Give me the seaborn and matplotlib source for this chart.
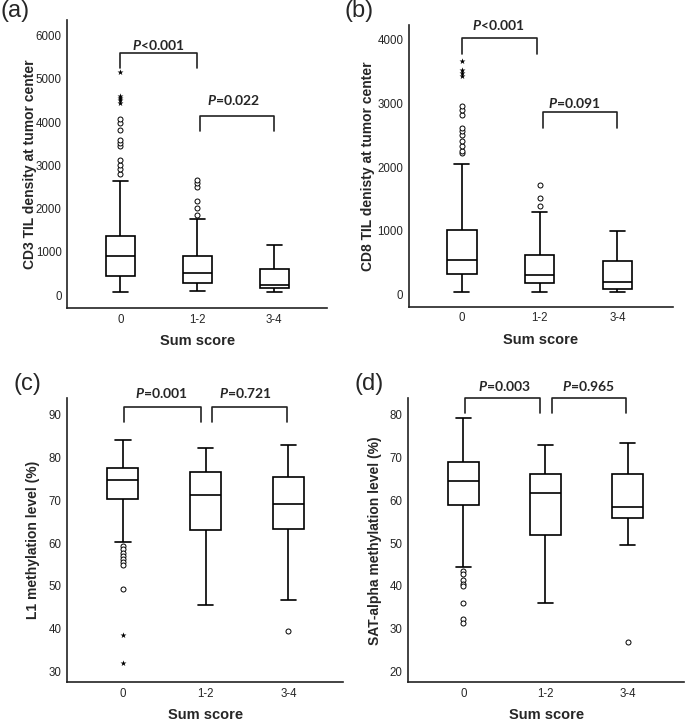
import numpy as np
import pandas as pd
import matplotlib
matplotlib.use('Agg')
import matplotlib.pyplot as plt
import seaborn as sns

sns.set_style('white')
plt.rcParams['font.family'] = ['Liberation Sans', 'DejaVu Sans']
plt.rcParams['mathtext.fontset'] = 'custom'
plt.rcParams['mathtext.it'] = 'Lato:italic:bold'
plt.rcParams['mathtext.rm'] = 'Lato:bold'

groups = ['0', '1-2', '3-4']

# box stats per group: [whisker low, Q1, median, Q3, whisker high]
cd3_box = {'0': [77, 438, 900, 1377, 2638],
           '1-2': [100, 285, 523, 900, 1754],
           '3-4': [69, 177, 246, 608, 1169]}
cd3_circ = {'0': [2792, 2908, 3000, 3115, 3438, 3508, 3577, 3808, 3990, 4060],
            '1-2': [1846, 2023, 2177, 2500, 2592, 2654],
            '3-4': []}
cd3_star = {'0': [4440, 4500, 4560, 4610, 5150], '1-2': [], '3-4': []}

cd8_box = {'0': [42, 324, 549, 1020, 2055],
           '1-2': [37, 178, 314, 622, 1291],
           '3-4': [42, 94, 199, 523, 999]}
cd8_circ = {'0': [2222, 2259, 2327, 2405, 2510, 2562, 2614, 2824, 2902, 2954],
            '1-2': [1396, 1516, 1725],
            '3-4': []}
cd8_star = {'0': [3425, 3477, 3529, 3660], '1-2': [], '3-4': []}

l1_box = {'0': [60.2, 70.4, 74.8, 77.5, 84.2],
          '1-2': [45.6, 63.1, 71.2, 76.7, 82.2],
          '3-4': [46.8, 63.2, 69.2, 75.4, 82.9]}
l1_circ = {'0': [59.3, 58.6, 57.8, 57.0, 56.3, 55.6, 55.0, 49.4],
           '1-2': [],
           '3-4': [39.4]}
l1_star = {'0': [38.5, 32.1], '1-2': [], '3-4': []}

sat_box = {'0': [44.4, 58.8, 64.4, 69.0, 79.2],
           '1-2': [36.1, 51.8, 61.7, 66.2, 73.0],
           '3-4': [49.5, 55.8, 58.5, 66.2, 73.3]}
sat_circ = {'0': [43.5, 42.8, 41.3, 40.5, 39.9, 36.0, 32.2, 31.4],
            '1-2': [],
            '3-4': [26.9]}
sat_star = {'0': [], '1-2': [], '3-4': []}

# p-value annotations: (label, x left, x right, y top, y bottom, text x, text y)
cd3_p = [('$\\mathit{P}$<0.001', 0, 1, 5600, 5250, 0.49, 5770),
         ('$\\mathit{P}$=0.022', 1.03, 2, 4138, 3800, 1.47, 4500)]
cd8_p = [('$\\mathit{P}$<0.001', 0, 0.97, 4026, 3780, 0.47, 4235),
         ('$\\mathit{P}$=0.091', 1.04, 2, 2860, 2610, 1.45, 3010)]
l1_p = [('$\\mathit{P}$=0.001', 0.02, 0.94, 91.8, 88.3, 0.47, 95.0),
        ('$\\mathit{P}$=0.721', 1.08, 1.98, 91.8, 88.3, 1.48, 95.0)]
sat_p = [('$\\mathit{P}$=0.003', 0.02, 0.93, 84.0, 80.4, 0.50, 86.7),
         ('$\\mathit{P}$=0.965', 1.08, 1.98, 84.0, 80.4, 1.52, 86.7)]

panels = [
    dict(tag='(a)', box=cd3_box, circ=cd3_circ, star=cd3_star, p=cd3_p,
         ylabel='CD3 TIL density at tumor center', ylim=(-300, 6350),
         yticks=[0, 1000, 2000, 3000, 4000, 5000, 6000], xlim=(-0.69, 2.69),
         pos=[0.098, 0.576, 0.380, 0.396], tagpos=(0.0, 1.0), ylx=-0.115),
    dict(tag='(b)', box=cd8_box, circ=cd8_circ, star=cd8_star, p=cd8_p,
         ylabel='CD8 TIL denisty at tumor center', ylim=(-190, 4235),
         yticks=[0, 1000, 2000, 3000, 4000], xlim=(-0.68, 2.71),
         pos=[0.597, 0.578, 0.385, 0.388], tagpos=(0.503, 1.0), ylx=-0.129),
    dict(tag='(c)', box=l1_box, circ=l1_circ, star=l1_star, p=l1_p,
         ylabel='L1 methylation level (%)', ylim=(27.5, 93.8),
         yticks=[30, 40, 50, 60, 70, 80, 90], xlim=(-0.67, 2.66),
         pos=[0.098, 0.0615, 0.403, 0.3905], tagpos=(0.02, 0.487), ylx=-0.098),
    dict(tag='(d)', box=sat_box, circ=sat_circ, star=sat_star, p=sat_p,
         ylabel='SAT-alpha methylation level (%)', ylim=(17.5, 83.8),
         yticks=[20, 30, 40, 50, 60, 70, 80], xlim=(-0.67, 2.69),
         pos=[0.596, 0.0615, 0.403, 0.3905], tagpos=(0.518, 0.487), ylx=-0.095),
]

fig = plt.figure(figsize=(6.85, 7.27), dpi=100)

for pn in panels:
    ax = fig.add_axes(pn['pos'])
    box_df = pd.DataFrame([(g, v) for g in groups for v in pn['box'][g]],
                          columns=['group', 'value'])
    sns.boxplot(data=box_df, x='group', y='value', order=groups, whis=(0, 100),
                width=0.38, color='white', linecolor='black', linewidth=1.2,
                showfliers=False, ax=ax)
    circ_df = pd.DataFrame([(g, v) for g in groups for v in pn['circ'][g]],
                           columns=['group', 'value'])
    if len(circ_df):
        sns.stripplot(data=circ_df, x='group', y='value', order=groups, jitter=False,
                      marker='o', color='white', edgecolor='black', linewidth=0.7,
                      size=3.6, ax=ax, zorder=5)
    star_df = pd.DataFrame([(g, v) for g in groups for v in pn['star'][g]],
                           columns=['group', 'value'])
    if len(star_df):
        sns.stripplot(data=star_df, x='group', y='value', order=groups, jitter=False,
                      marker='*', color='black', linewidth=0, size=4.5, ax=ax, zorder=5)

    for lab, x0, x1, ytop, ybot, tx, ty in pn['p']:
        ax.plot([x0, x0, x1, x1], [ybot, ytop, ytop, ybot], color='#222222',
                lw=1.2, clip_on=False)
        ax.text(tx, ty, lab, ha='center', va='center', fontsize=10,
                fontweight='bold', family='Lato', clip_on=False)

    ax.set_xlim(pn['xlim'])
    ax.set_ylim(pn['ylim'])
    ax.set_yticks(pn['yticks'])
    ax.tick_params(axis='both', length=0, labelsize=8.3, pad=4)
    ax.set_xlabel('Sum score', fontsize=10.5, fontweight='bold', labelpad=6)
    ax.set_ylabel(pn['ylabel'], fontsize=10, fontweight='bold')
    ax.yaxis.set_label_coords(pn['ylx'], 0.5)
    sns.despine(ax=ax)
    for s in ['left', 'bottom']:
        ax.spines[s].set_color('#222222')
        ax.spines[s].set_linewidth(1.2)
    fig.text(pn['tagpos'][0], pn['tagpos'][1], pn['tag'], fontsize=17,
             ha='left', va='top')

fig.savefig('out.png', dpi=100)
